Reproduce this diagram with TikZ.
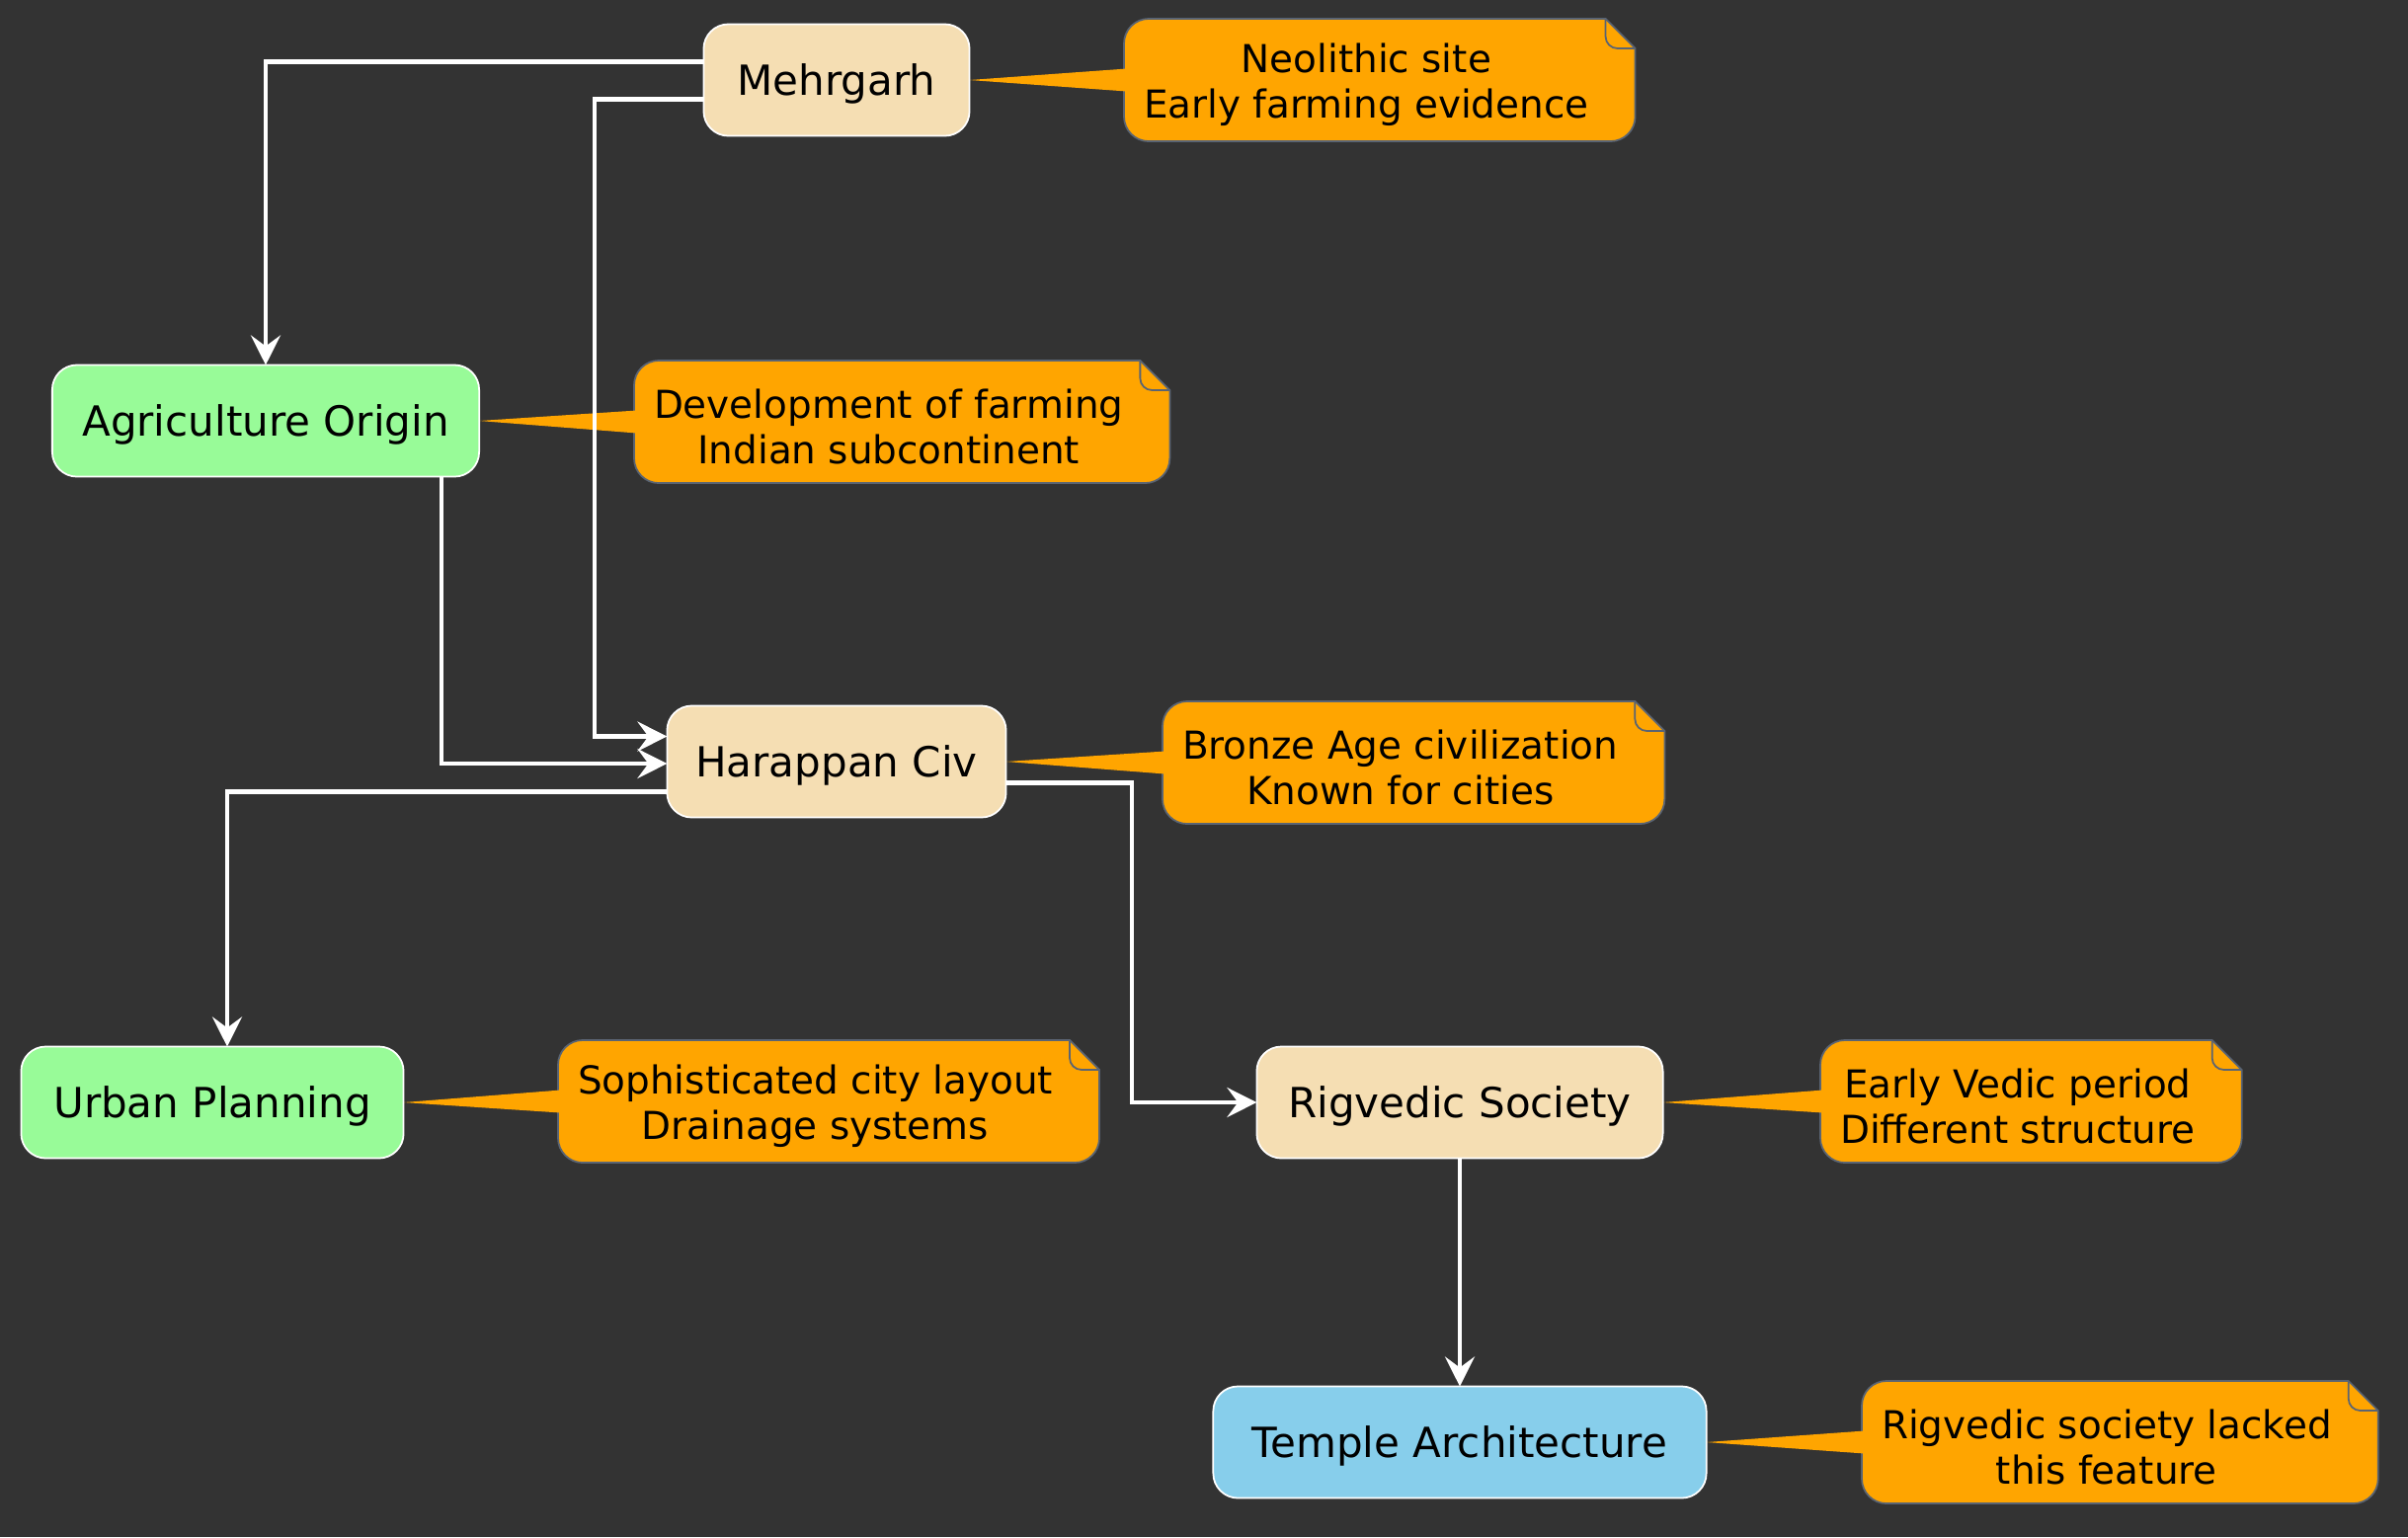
\documentclass[tikz,border=0pt]{standalone}
\usepackage{fontspec}
\setmainfont{DejaVu Sans}
\usetikzlibrary{arrows.meta,calc,backgrounds}
\definecolor{bgdark}{HTML}{333333}
\definecolor{wheatfill}{HTML}{F5DEB3}
\definecolor{greenfill}{HTML}{98FB98}
\definecolor{bluefill}{HTML}{87CEEB}
\definecolor{notefill}{HTML}{FFA500}
\definecolor{notegray}{HTML}{5A6473}
\tikzset{
  stage/.style={draw=white, line width=0.5pt, rounded corners=0.25cm, minimum height=1.13cm,
    inner xsep=0.28cm, outer sep=0pt, text height=0.40cm, text depth=0.09cm,
    font=\fontsize{11.95pt}{14pt}\selectfont},
  notetext/.style={anchor=west, inner xsep=0.2cm, minimum height=1.24cm, outer sep=0pt,
    align=center, text height=0.85cm, font=\fontsize{11.07pt}{13.1pt}\selectfont},
  notebody/.style={fill=notefill, draw=notegray, line width=0.5pt},
  flow/.style={white, line width=1.2pt, -{Stealth[length=0.30cm, width=0.30cm, inset=0.11cm]}},
}

\begin{document}
\begin{tikzpicture}[x=0.01cm, y=-0.01cm]
\useasboundingbox (0,0) rectangle (2438,1556);
% stages
\node[stage, fill=wheatfill, minimum width=2.69cm] (meh) at (847,81) {Mehrgarh};
\node[stage, fill=greenfill, minimum width=4.32cm] (agri) at (269,426) {Agriculture Origin};
\node[stage, fill=wheatfill, minimum width=3.43cm] (harap) at (847,771) {Harappan Civ};
\node[stage, fill=greenfill, minimum width=3.87cm] (urban) at (215,1116) {Urban Planning};
\node[stage, fill=wheatfill, minimum width=4.11cm] (rigv) at (1478,1116) {Rigvedic Society};
\node[stage, fill=bluefill, minimum width=4.99cm] (temple) at (1478,1460) {Temple Architecture};
% notes
\node[notetext] (nMeh) at (1138,81) {Neolithic site\\Early farming evidence};
\node[notetext] (nAgri) at (642,427) {Development of farming\\Indian subcontinent};
\node[notetext] (nHarap) at (1177,772) {Bronze Age civilization\\Known for cities};
\node[notetext] (nUrban) at (565,1115) {Sophisticated city layout\\Drainage systems};
\node[notetext] (nRigv) at (1843,1115) {Early Vedic period\\Different structure};
\node[notetext] (nTemple) at (1885,1460) {Rigvedic society lacked\\this feature};
\begin{scope}[on background layer]
\fill[bgdark] (0,0) rectangle (2438,1556);
\foreach \nt in {nMeh,nAgri,nHarap,nUrban,nRigv,nTemple}
  \draw[notebody] let \p1=(\nt.north west), \p2=(\nt.south east) in
    (\x2-0.03cm,\y1) -- (\x1+0.25cm,\y1) arc[start angle=90, end angle=180, radius=0.25cm]
    -- (\x1,\y2+0.25cm) arc[start angle=180, end angle=270, radius=0.25cm]
    -- (\x2+0.02cm,\y2) arc[start angle=270, end angle=360, radius=0.25cm]
    -- (\x2+0.27cm,\y1-0.30cm) -- cycle;
\foreach \st/\nt in {meh/nMeh,agri/nAgri,harap/nHarap,urban/nUrban,rigv/nRigv,temple/nTemple}
  \fill[notefill] ([xshift=0.03cm,yshift=0.115cm]\nt.west) -- (\st.east)
    -- ([xshift=0.03cm,yshift=-0.115cm]\nt.west) -- cycle;
\end{scope}
% folded corners
\foreach \nt in {nMeh,nAgri,nHarap,nUrban,nRigv,nTemple}
  \draw[notegray, line width=0.5pt] let \p1=(\nt.north east) in
    (\x1-0.03cm,\y1) -- ++(0,-0.18cm) arc[start angle=180, end angle=270, radius=0.12cm]
    -- (\x1+0.27cm,\y1-0.30cm);
% connectors
\draw[flow] ([yshift=0.185cm]meh.west) -| (agri.north);
\draw[flow] ([yshift=-0.195cm]meh.west) -| ([xshift=-0.73cm,yshift=0.255cm]harap.west)
  -- ([yshift=0.255cm]harap.west);
\draw[flow] ([xshift=1.78cm]agri.south) |- ([yshift=-0.02cm]harap.west);
\draw[flow] ([yshift=-0.305cm]harap.west) -| ([xshift=0.15cm]urban.north);
\draw[flow] ([yshift=-0.215cm]harap.east) -- ++(1.27cm,0) |- (rigv.west);
\draw[flow] (rigv.south) -- (temple.north);
\end{tikzpicture}
\end{document}
